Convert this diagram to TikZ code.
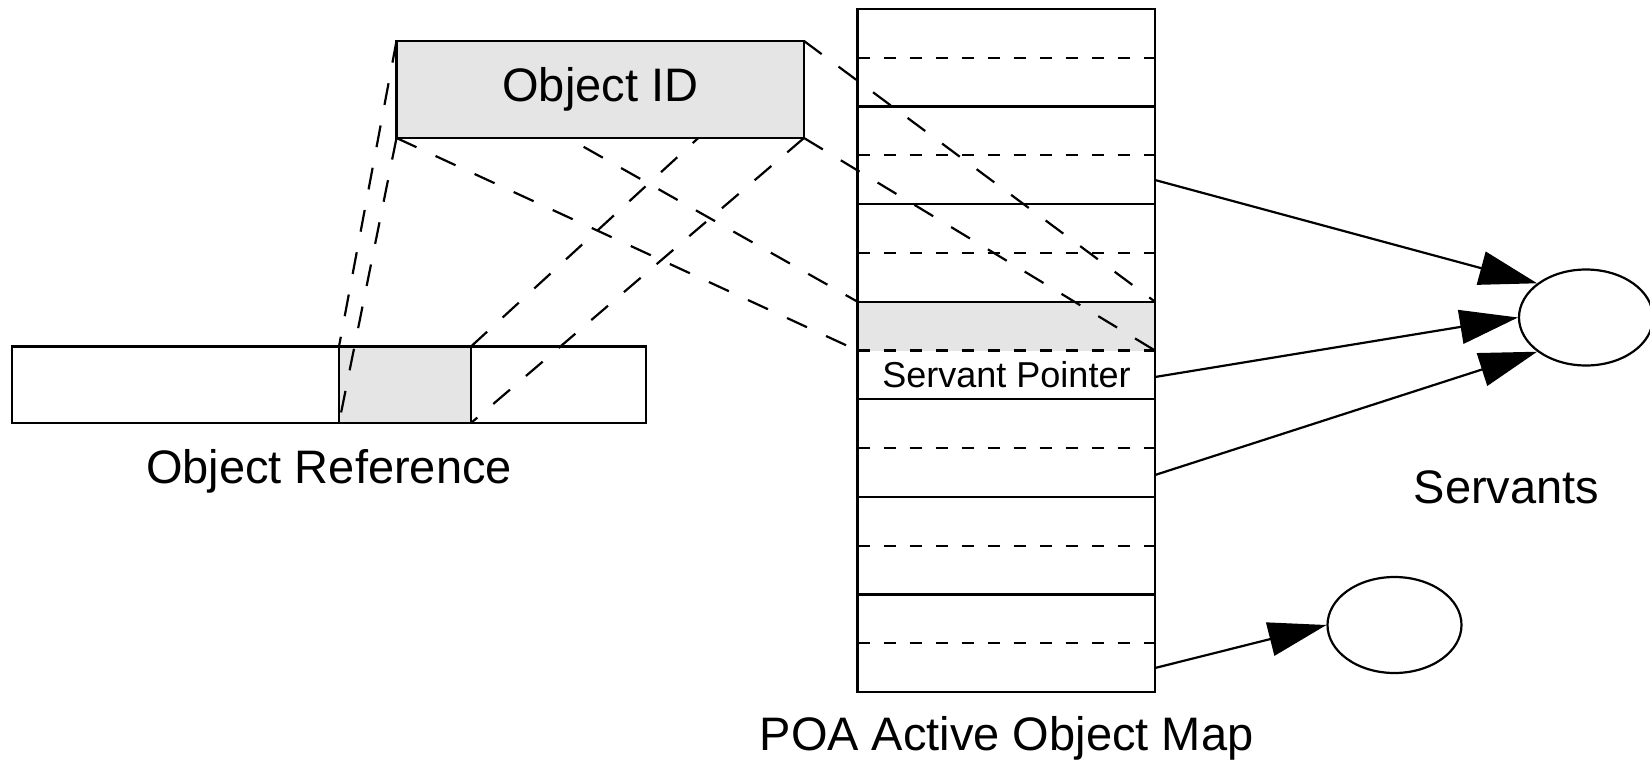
\documentclass[tikz,border=0pt]{standalone}
\usepackage{fontspec}
\setmainfont{Liberation Sans}
\usetikzlibrary{shapes.geometric,arrows.meta}
\definecolor{slotgray}{RGB}{229,229,229}
\pgfdeclarelayer{top}
\pgfsetlayers{main,top}
\begin{document}
\begin{tikzpicture}[x=0.5pt,y=-0.5pt,
  box/.style={draw,line width=1.2pt,inner sep=0pt,outer sep=0pt,anchor=north west},
  rowbox/.style={box,minimum width=148.75pt,minimum height=48.785pt},
  proj/.style={line width=1.1pt,dash pattern=on 11pt off 10.5pt},
  sep/.style={line width=1.1pt,dash pattern=on 6pt off 7pt},
  arr/.style={line width=1.1pt,-{Triangle[length=29pt,width=17pt]}},
  servant/.style={draw,ellipse,line width=1.1pt,minimum width=67pt,minimum height=48pt,inner sep=0pt},
  big/.style={inner sep=0pt,anchor=base,font=\fontsize{23.5}{28}\selectfont},
]
\useasboundingbox (0,0) rectangle (1650,760);

% object reference
\node[box,fill=white,minimum width=317pt,minimum height=38.25pt] (objref) at (12,346.5) {};
\node[box,fill=slotgray,minimum width=66pt,minimum height=38.25pt] (refid) at (339,346.5) {};

% active object map
\node[anchor=north west,fill=slotgray,inner sep=0pt,outer sep=0pt,minimum width=148.75pt,minimum height=24.4pt] (slot) at (857.5,301.7) {};
\foreach \k in {1,...,7} {
  \node[rowbox] (row\k) at (857.5,{9+(\k-1)*97.571}) {};
  \draw[sep] (row\k.west) -- (row\k.east);
}

% object id (on top)
\begin{pgfonlayer}{top}
\node[box,fill=slotgray,minimum width=203.75pt,minimum height=48.5pt,font=\fontsize{23.5}{28}\selectfont] (objid) at (396.5,41) {Object ID};
\end{pgfonlayer}

% projection lines
\draw[proj] (objid.north west) -- (refid.north west);
\draw[proj] (objid.south west) -- (refid.south west);
\draw[proj] (objid.north east) -- (refid.north east);
\draw[proj] (objid.south east) -- (refid.south east);
\draw[proj] (objid.north west) -- (row4.north west);
\draw[proj] (objid.south west) -- (row4.west);
\draw[proj] (objid.north east) -- (row4.north east);
\draw[proj] (objid.south east) -- (row4.east);

% servants
\node[servant] (serv1) at (1586,317.5) {};
\node[servant] (serv2) at (1394.5,625) {};
\coordinate (p1) at (1155,180);
\coordinate (p2) at (1155,377);
\coordinate (p3) at (1155,475);
\coordinate (p4) at (1155,668);
\draw[arr] (p1) -- (serv1.145);
\draw[arr] (p2) -- (serv1.180);
\draw[arr] (p3) -- (serv1.215);
\draw[arr] (p4) -- (serv2.180);

% labels
\node[inner sep=0pt,font=\fontsize{18}{22}\selectfont] (ptr) at (1006.5,375) {Servant Pointer};
\node[big] (reflabel) at (329,483) {Object Reference};
\node[big] (servlabel) at (1506.5,503) {Servants};
\node[big] (maplabel) at (1006.5,750) {POA Active Object Map};
\end{tikzpicture}
\end{document}
